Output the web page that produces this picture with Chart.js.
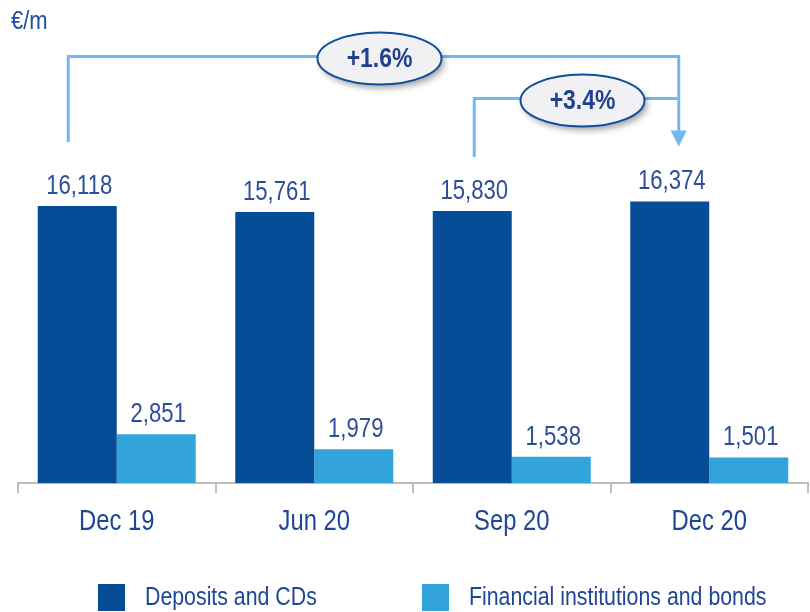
<!DOCTYPE html>
<html lang="en">
<head>
  <meta charset="UTF-8" />
  <title>Deposits and funding</title>
  <style>
    body {
      margin: 0;
      background: #ffffff;
      font-family: 'Liberation Sans', sans-serif;
    }

    #wrap {
      position: relative;
      width: 810px;
      height: 612px;
      overflow: hidden;
    }

    #unit {
      position: absolute;
      left: 11px;
      top: 6px;
      font-size: 25px;
      color: #1f4e9c;
      transform: scaleX(0.88);
      transform-origin: left top;
    }

    #legend {
      position: absolute;
      left: 98px;
      top: 584px;
      white-space: nowrap;
    }

    #legend span.box {
      position: absolute;
      top: 0;
      width: 27px;
      height: 27px;
    }

    #legend span.txt {
      position: absolute;
      top: -3px;
      font-size: 26px;
      color: #1f4694;
      transform: scaleX(0.82);
      transform-origin: left top;
    }
  </style>
</head>
<body>
  <div id="wrap">
    <canvas id="chart" width="810" height="612"></canvas>
    <div id="unit">€/m</div>
    <div id="legend"></div>
  </div>

  <script src="https://cdn.jsdelivr.net/npm/chart.js"></script>
  <script>
    const categories = ['Dec 19', 'Jun 20', 'Sep 20', 'Dec 20'];
    const deposits = [16118, 15761, 15830, 16374];
    const institutions = [2851, 1979, 1538, 1501];
    const seriesNames = ['Deposits and CDs', 'Financial institutions and bonds'];
    const seriesColors = ['#064c97', '#33a4db'];

    // growth brackets: from category index -> to category index (on deposits)
    const growthLabels = ['+1.6%', '+3.4%'];
    const growthFrom = [0, 2];
    const growthTo = [3, 3];

    const FONT = "'Liberation Sans', sans-serif";
    const SQUEEZE = 0.82; // the original uses a narrow face

    // legend (box left offsets relative to legend div)
    const legend = document.getElementById('legend');
    const legendX = [0, 324];
    seriesNames.forEach((name, i) => {
      const box = document.createElement('span');
      box.className = 'box';
      box.style.left = legendX[i] + 'px';
      box.style.background = seriesColors[i];
      const txt = document.createElement('span');
      txt.className = 'txt';
      txt.style.left = (legendX[i] + 47) + 'px';
      txt.textContent = name;
      legend.appendChild(box);
      legend.appendChild(txt);
    });

    function narrowText(ctx, text, x, y) {
      ctx.save();
      ctx.translate(x, y);
      ctx.scale(SQUEEZE, 1);
      ctx.fillText(text, 0, 0);
      ctx.restore();
    }

    const valueLabels = {
      id: 'valueLabels',
      afterDatasetsDraw(chart) {
        const ctx = chart.ctx;
        ctx.save();
        ctx.font = '27px ' + FONT;
        ctx.fillStyle = '#2e4f96';
        ctx.textAlign = 'center';
        ctx.textBaseline = 'bottom';
        chart.data.datasets.forEach((ds, di) => {
          chart.getDatasetMeta(di).data.forEach((bar, i) => {
            narrowText(ctx, ds.data[i].toLocaleString('en-US'), bar.x + 2, bar.y - 6);
          });
        });

        // category labels
        const xs = chart.scales.x;
        ctx.font = '29px ' + FONT;
        ctx.fillStyle = '#1f4694';
        ctx.textBaseline = 'middle';
        categories.forEach((c, i) => {
          narrowText(ctx, c, xs.getPixelForTick(i), chart.chartArea.bottom + 39);
        });
        ctx.restore();
      }
    };

    const brackets = {
      id: 'brackets',
      afterDraw(chart) {
        const ctx = chart.ctx;
        const bars = chart.getDatasetMeta(0).data;
        ctx.save();
        [0, 1].forEach(k => {
          const a = bars[growthFrom[k]];
          const b = bars[growthTo[k]];
          const x1 = a.x - (k === 0 ? 9 : -2);
          const x2 = b.x + 9;
          const top = Math.min(a.y, b.y) - (k === 0 ? 145 : 103);
          const yA = a.y - (k === 0 ? 64 : 54);
          const yB = b.y - 55;

          ctx.strokeStyle = '#73b6f5';
          ctx.lineWidth = 3;
          ctx.beginPath();
          ctx.moveTo(x1, yA);
          ctx.lineTo(x1, top);
          ctx.lineTo(x2, top);
          if (k === 0) {
            ctx.lineTo(x2, yB - 14);
          }
          ctx.stroke();

          if (k === 0) {
            ctx.fillStyle = '#73b6f5';
            ctx.beginPath();
            ctx.moveTo(x2 - 8, yB - 16);
            ctx.lineTo(x2 + 8, yB - 16);
            ctx.lineTo(x2, yB);
            ctx.closePath();
            ctx.fill();
          }

          const cx = (x1 + x2) / 2 + 6;
          ctx.save();
          ctx.shadowColor = 'rgba(0,0,0,0.35)';
          ctx.shadowBlur = 6;
          ctx.shadowOffsetX = 3;
          ctx.shadowOffsetY = 4;
          ctx.fillStyle = '#f1f1f4';
          ctx.beginPath();
          ctx.ellipse(cx, top + 2, 62, 26, 0, 0, Math.PI * 2);
          ctx.fill();
          ctx.restore();
          ctx.strokeStyle = '#0d4f9c';
          ctx.lineWidth = 2;
          ctx.beginPath();
          ctx.ellipse(cx, top + 2, 62, 26, 0, 0, Math.PI * 2);
          ctx.stroke();

          ctx.fillStyle = '#1f3f8f';
          ctx.font = 'bold 28px ' + FONT;
          ctx.textAlign = 'center';
          ctx.textBaseline = 'middle';
          narrowText(ctx, growthLabels[k], cx, top + 3);
        });
        ctx.restore();
      }
    };

    new Chart(document.getElementById('chart'), {
      type: 'bar',
      data: {
        labels: categories,
        datasets: [
          { label: seriesNames[0], data: deposits, backgroundColor: seriesColors[0] },
          { label: seriesNames[1], data: institutions, backgroundColor: seriesColors[1] }
        ]
      },
      options: {
        responsive: false,
        animation: false,
        layout: { padding: { top: 140, left: 18, right: 2, bottom: 74 } },
        datasets: {
          bar: { categoryPercentage: 0.8, barPercentage: 1.0 }
        },
        plugins: {
          legend: { display: false },
          tooltip: { enabled: false }
        },
        scales: {
          y: { display: false, min: 0, max: 19950 },
          x: {
            grid: {
              drawOnChartArea: false,
              tickLength: 10,
              color: '#bfbfbf',
              lineWidth: 2
            },
            border: { color: '#bfbfbf', width: 2 },
            ticks: {
              padding: 5,
              color: 'rgba(0,0,0,0)',
              font: { family: FONT, size: 29 }
            }
          }
        }
      },
      plugins: [valueLabels, brackets]
    });
  </script>
</body>
</html>
